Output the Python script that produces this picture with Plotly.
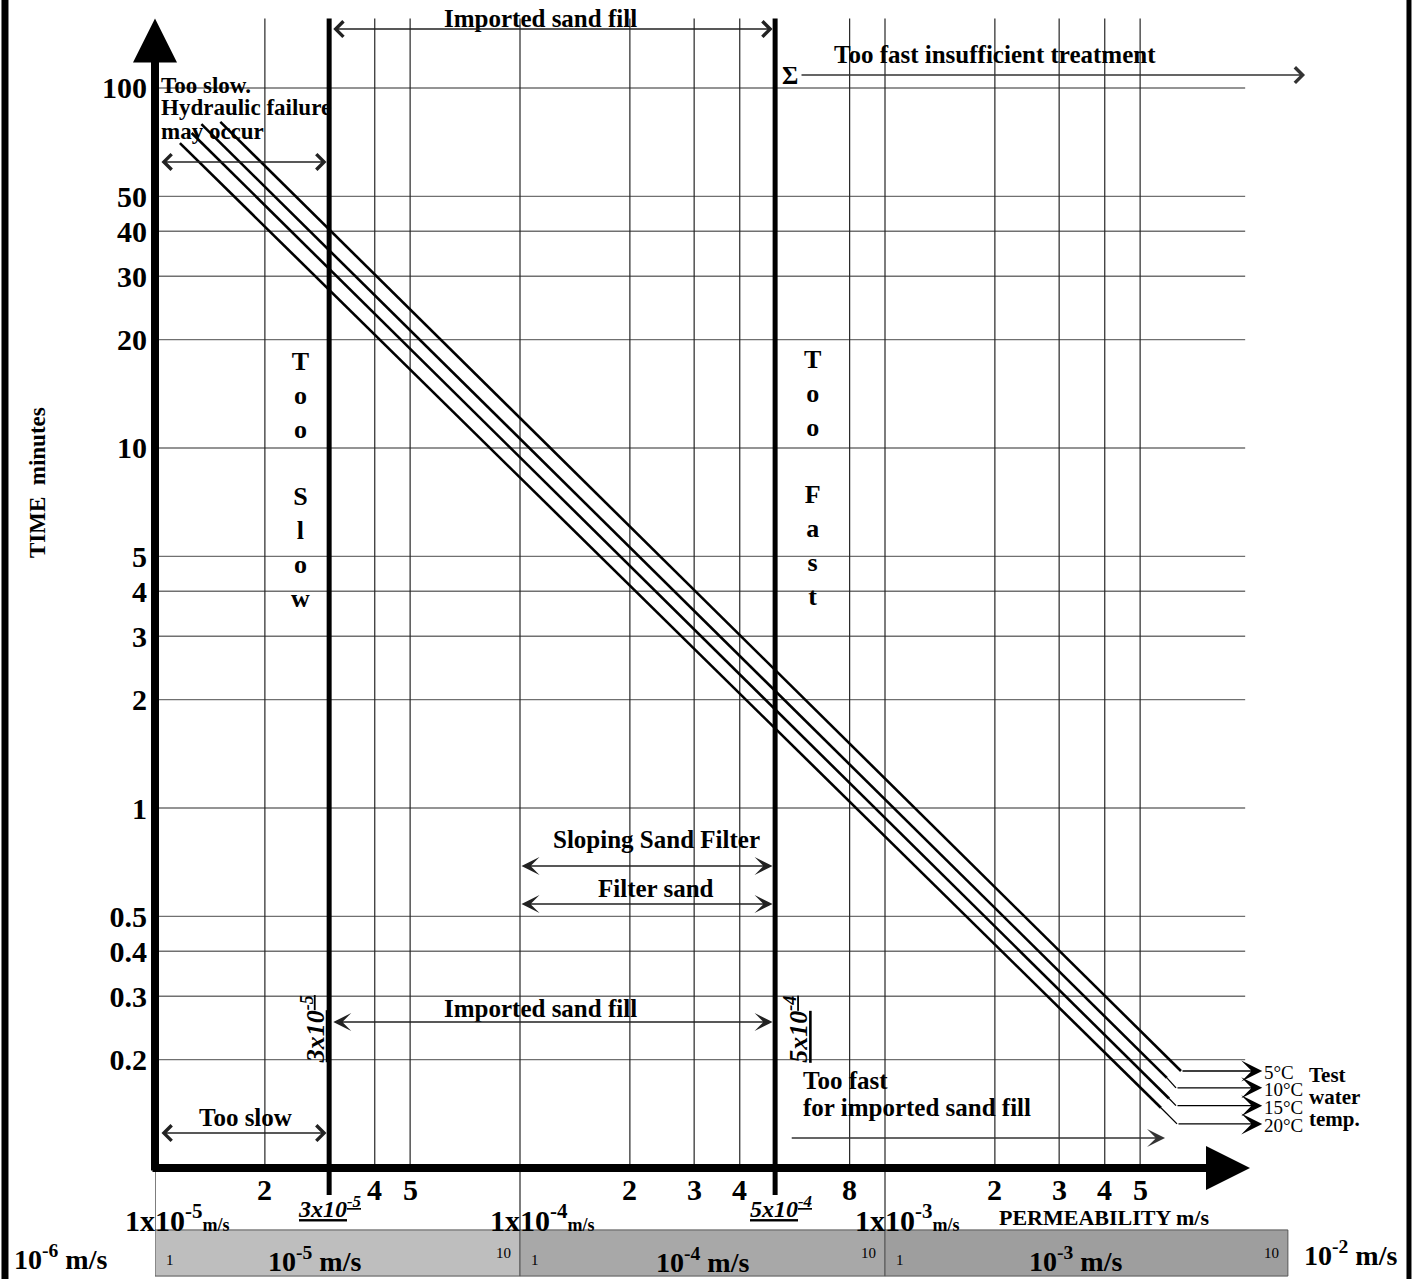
import numpy as np
import plotly.graph_objects as go

FONT = "Liberation Serif, Times New Roman, serif"

# ---------------- data ----------------
time_ticks = [100, 50, 40, 30, 20, 10, 5, 4, 3, 2, 1, 0.5, 0.4, 0.3, 0.2]
time_tick_labels = ["100", "50", "40", "30", "20", "10", "5", "4", "3", "2", "1",
                    "0.5", "0.4", "0.3", "0.2"]
perm_grid = [2e-5, 4e-5, 5e-5, 1e-4, 2e-4, 3e-4, 4e-4, 8e-4,
             1e-3, 2e-3, 3e-3, 4e-3, 5e-3]
perm_tick_vals = [2e-5, 4e-5, 5e-5, 2e-4, 3e-4, 4e-4, 8e-4, 2e-3, 3e-3, 4e-3, 5e-3]
perm_tick_labels = ["2", "4", "5", "2", "3", "4", "8", "2", "3", "4", "5"]
decade_starts = [1e-5, 1e-4, 1e-3]
decade_labels = ["1x10<sup>-5</sup>", "1x10<sup>-4</sup>", "1x10<sup>-3</sup>"]
band_ends = [1e-4, 1e-3, 1.27e-2]
band_labels = ["10<sup>-5</sup> m/s", "10<sup>-4</sup> m/s", "10<sup>-3</sup> m/s"]
band_colors = ["#bebebe", "#a8a8a8", "#9e9e9e"]
limit_k = [3e-5, 5e-4]
limit_labels = ["3x10<sup>-5</sup>", "5x10<sup>-4</sup>"]

temp_labels = ["5°C", "10°C", "15°C", "20°C"]
start_k = [1.51e-5, 1.34e-5, 1.26e-5, 1.17e-5]
start_t = [80.5, 79.4, 75.0, 70.3]
end_k = [6.47e-3, 5.92e-3, 6.00e-3, 5.70e-3]
end_t = [0.186, 0.178, 0.156, 0.147]
bend_k = [6.47e-3, 6.27e-3, 6.27e-3, 6.31e-3]
bend_t = [0.186, 0.167, 0.149, 0.1326]

# ---------------- layout constants ----------------
X_RANGE = [-5.0, -1.5315]
Y_RANGE = [-1.3083, 2.2444]
K_MIN = 1e-5
T_AXIS = 0.1
GRID_K_END = 9.7e-3
GRID_T_TOP = 156
DECADE_T_BOTTOM = 0.0673
LIMIT_T_BOTTOM = 0.0841
BAND_T = (0.0673, 0.0501)
K_ARROW = 1.08e-2

L = np.log10
fig = go.Figure()


def line_trace(xs, ys, color, width):
    fig.add_trace(go.Scatter(x=xs, y=ys, mode="lines", line=dict(color=color, width=width),
                             hoverinfo="skip", showlegend=False))


def text(s, k, t, size, bold=True, anchor="center", angle=0, xref="x", yanchor="middle"):
    fig.add_annotation(text=(f"<b>{s}</b>" if bold else s),
                       x=(L(k) if xref == "x" else k), y=L(t), xref=xref, yref="y",
                       showarrow=False, xanchor=anchor, yanchor=yanchor, textangle=angle,
                       borderpad=0,
                       font=dict(family=FONT, size=size, color="black"))


def arrow(k0, t0, k1, t1, head=4, size=2.0, width=1.5, color="black", side="end"):
    fig.add_annotation(x=L(k1), y=L(t1), ax=L(k0), ay=L(t0), xref="x", yref="y",
                       axref="x", ayref="y", text="", showarrow=True, arrowhead=head,
                       startarrowhead=head, arrowsize=size, startarrowsize=size,
                       arrowwidth=width, arrowcolor=color, arrowside=side,
                       standoff=0, startstandoff=0)


# bands below the axis
for k0, k1, col in zip(decade_starts, band_ends, band_colors):
    fig.add_trace(go.Scatter(x=[k0, k1, k1, k0, k0],
                             y=[BAND_T[0], BAND_T[0], BAND_T[1], BAND_T[1], BAND_T[0]],
                             mode="lines", fill="toself", fillcolor=col,
                             line=dict(color="#555555", width=1), hoverinfo="skip",
                             showlegend=False))

# horizontal grid
hx, hy = [], []
for t in time_ticks:
    hx += [K_MIN, GRID_K_END, None]
    hy += [t, t, None]
line_trace(hx, hy, "#707070", 1.4)

# vertical grid
vx, vy = [], []
for k in perm_grid:
    vx += [k, k, None]
    vy += [DECADE_T_BOTTOM if k in decade_starts else T_AXIS, GRID_T_TOP, None]
vx += [K_MIN, K_MIN, None]
vy += [DECADE_T_BOTTOM, T_AXIS, None]
line_trace(vx, vy, "#262626", 1.2)

# thick limit lines
for k in limit_k:
    line_trace([k, k], [LIMIT_T_BOTTOM, GRID_T_TOP], "black", 5)

# temperature lines
for i in range(4):
    line_trace([start_k[i], end_k[i]], [start_t[i], end_t[i]], "black", 2.6)
    line_trace([end_k[i], bend_k[i]], [end_t[i], bend_t[i]], "black", 1.3)
    arrow(bend_k[i], bend_t[i], K_ARROW, bend_t[i], head=3, size=2.5, width=1.4)
    text(temp_labels[i], K_ARROW * 1.003, bend_t[i] * 0.99, 19, bold=False, anchor="left")
text("Test", 1.443e-2, 0.1813, 21, anchor="left")
text("water", 1.443e-2, 0.1575, 21, anchor="left")
text("temp.", 1.443e-2, 0.1369, 21, anchor="left")

# axes with arrow heads
arrow(K_MIN, 0.0975, K_MIN, GRID_T_TOP, head=2, size=1.1, width=8)
arrow(9.75e-6, T_AXIS, 1e-2, T_AXIS, head=2, size=1.1, width=8)

# x tick labels
for k, s in zip(perm_tick_vals, perm_tick_labels):
    text(s, k, 0.0869, 30)
for k, s in zip(decade_starts, decade_labels):
    text(s + "<span style='font-size:18px'>m/s</span>", k * 1.156, 0.0727, 30)
text("PERMEABILITY m/s", 3.98e-3, 0.0727, 22)
text("<u><i>" + limit_labels[0] + "</i></u>", limit_k[0], 0.0779, 24)
text("<u><i>" + limit_labels[1] + "</i></u>", limit_k[1] * 1.04, 0.0779, 24)

# band labels
for k0, k1, s in zip(decade_starts, band_ends, band_labels):
    text("1", k0 * 1.065, 0.0555, 15, bold=False, anchor="left")
    text("10", k1 * 0.951, 0.058, 15, bold=False, anchor="right")
text(band_labels[0], 2.74e-5, 0.0556, 28)
text(band_labels[1], 3.16e-4, 0.0553, 28)
text(band_labels[2], 3.32e-3, 0.0556, 28)
text("10<sup>-6</sup> m/s", -0.075, 0.0566, 28, xref="paper")
text("10<sup>-2</sup> m/s", 1.88e-2, 0.058, 28)

# y axis title
text("TIME  minutes", -0.0932, 7.99, 23, angle=-90, xref="paper")

# rotated limit labels near bottom
text("<u><i>" + limit_labels[0] + "</i></u>", 2.71e-5, 0.243, 26, angle=-90)
text("<u><i>" + limit_labels[1] + "</i></u>", 5.74e-4, 0.242, 26, angle=-90)

# region texts and arrows (top)
text("Too slow.", 1.032e-5, 101.9, 23, anchor="left")
text("Hydraulic failure", 1.032e-5, 88.0, 23, anchor="left")
text("may occur", 1.032e-5, 75.5, 23, anchor="left")
arrow(1.032e-5, 62.3, 2.95e-5, 62.3, head=4, size=2.0, width=1.5, color="#222222",
      side="end+start")

text("Imported sand fill", 1.135e-4, 156.4, 25)
arrow(3.05e-5, 145.8, 4.92e-4, 145.8, head=4, size=2.0, width=1.5, color="#222222",
      side="end+start")

text("Too fast insufficient treatment", 2.0e-3, 123.5, 25)
text("Σ", 5.5e-4, 108.6, 25)
arrow(5.85e-4, 108.6, 1.415e-2, 108.6, head=4, size=2.0, width=1.5, color="#333333")

text("T<br>o<br>o<br><br>S<br>l<br>o<br>w", 2.5e-5, 8.15, 26)
text("T<br>o<br>o<br><br>F<br>a<br>s<br>t", 6.31e-4, 8.25, 26)

# middle / bottom region texts
text("Sloping Sand Filter", 2.36e-4, 0.815, 25)
arrow(1.0e-4, 0.690, 4.92e-4, 0.690, head=3, size=2.0, width=1.5, color="#222222",
      side="end+start")
text("Filter sand", 2.36e-4, 0.596, 25)
arrow(1.0e-4, 0.541, 4.92e-4, 0.541, head=3, size=2.0, width=1.5, color="#222222",
      side="end+start")

text("Imported sand fill", 1.135e-4, 0.278, 25)
arrow(3.05e-5, 0.2544, 4.92e-4, 0.2544, head=3, size=2.0, width=1.5, color="#222222",
      side="end+start")

text("Too fast", 5.92e-4, 0.1755, 25, anchor="left")
text("for imported sand fill", 5.92e-4, 0.1468, 25, anchor="left")
arrow(5.5e-4, 0.1211, 5.85e-3, 0.1211, head=3, size=2.0, width=1.5, color="#333333")

text("Too slow", 1.765e-5, 0.1377, 25)
arrow(1.032e-5, 0.125, 2.95e-5, 0.125, head=4, size=2.0, width=1.5, color="#222222",
      side="end+start")

# outer frame
fig.add_shape(type="line", xref="paper", yref="paper", x0=-0.1185, x1=-0.1185, y0=0, y1=1,
              line=dict(color="black", width=7))
fig.add_shape(type="line", xref="paper", yref="paper", x0=0.9905, x1=0.9905, y0=0, y1=1,
              line=dict(color="black", width=5))

fig.update_layout(
    width=1421, height=1279,
    margin=dict(l=155, r=0, t=0, b=0),
    paper_bgcolor="white", plot_bgcolor="white", showlegend=False,
    xaxis=dict(type="log", range=X_RANGE, showticklabels=False, showgrid=False,
               zeroline=False, showline=False, ticks="", fixedrange=True),
    yaxis=dict(type="log", range=Y_RANGE, tickvals=time_ticks,
               ticktext=[f"<b>{s}</b>" for s in time_tick_labels],
               tickfont=dict(family=FONT, size=30, color="black"),
               ticklabelstandoff=7,
               showgrid=False, zeroline=False, showline=False, ticks="",
               automargin=False, fixedrange=True),
)

fig.write_html("out.html", config={"displayModeBar": False},
               post_script="document.body.style.margin='0';document.body.style.overflow='hidden';")
